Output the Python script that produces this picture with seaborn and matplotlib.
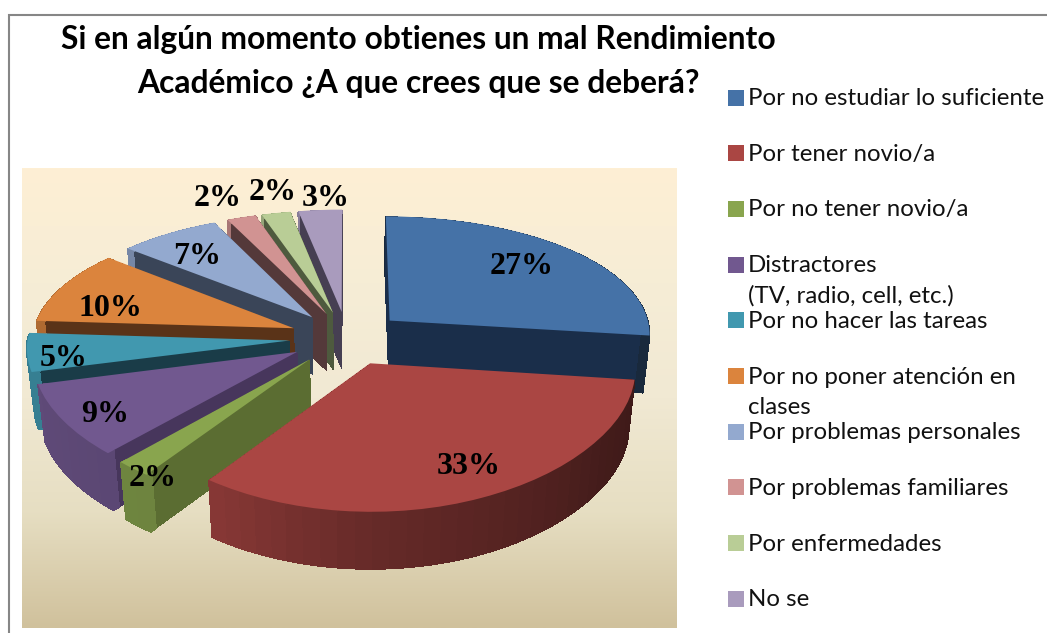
import numpy as np
import matplotlib
matplotlib.use("Agg")
import matplotlib.pyplot as plt
import seaborn as sns
from matplotlib.transforms import Transform, Affine2D

title_lines = ["Si en algún momento obtienes un mal Rendimiento",
               "Académico ¿A que crees que se deberá?"]
categories = [["Por no estudiar lo suficiente"], ["Por tener novio/a"], ["Por no tener novio/a"],
              ["Distractores", "(TV, radio, cell, etc.)"], ["Por no hacer las tareas"],
              ["Por no poner atención en", "clases"], ["Por problemas personales"],
              ["Por problemas familiares"], ["Por enfermedades"], ["No se"]]
values = [27, 33, 2, 9, 5, 10, 7, 2, 2, 3]
top_colors = ["#4572A7", "#AA4643", "#89A54E", "#71588F", "#4198AF",
              "#DB843D", "#93A9CF", "#D19392", "#B9CD96", "#A99BBD"]
cut_colors = ["#1A2E4A", "#4A1C1A", "#5B6D32", "#47365C", "#1A3C48",
              "#5A3318", "#3A4558", "#54393A", "#4E5A3E", "#463F52"]
label_xy = [(522, 263), (469, 464), (153, 476), (105, 411), (64, 355),
            (110, 305), (197, 253), (218, 196), (273, 190), (326, 195)]

W, H = 1047, 633
CX, CY, RX, RY, PK, EXPL, DEPTH = 347, 338, 262, 122, 0.13, 0.22, 57


class Persp(Transform):
    input_dims = output_dims = 2
    is_affine = False
    has_inverse = False

    def transform_non_affine(self, values):
        v = np.asarray(values, float)
        wy = 1 + PK * v[:, 1]
        wx = 1 + np.where(v[:, 1] > 0, 0.1, 0.05) * v[:, 1]
        return np.column_stack([v[:, 0] / wx, v[:, 1] / wy])


def wall_factor(theta):
    return np.interp(theta, [97, 120, 180, 216, 255, 273], [.36, .4, .6, .8, .84, .8])


sns.set_theme(style="white")
plt.rcParams["font.family"] = ["Lato", "DejaVu Sans"]
fig = plt.figure(figsize=(W / 100, H / 100), dpi=100, facecolor="white")
ax = fig.add_axes([0, 0, 1, 1])

cmap = sns.blend_palette(["#FEEFD4", "#F6EDD6", "#F1E9D3", "#E6DEC2", "#D0C19C"], as_cmap=True)
ax.imshow(np.linspace(0, 1, 256)[:, None], cmap=cmap, extent=(22, 677, 628, 168),
          aspect="auto", zorder=0)

fracs = np.array(values) / sum(values)
starts = np.concatenate([[0], np.cumsum(fracs)[:-1]]) * 360
persp = Persp()


def place(wedges, d):
    # lower layers shrink a little in x: the perspective of the extrusion
    sx = RX * (1 - 0.0004 * d)
    tr = persp + Affine2D().scale(sx, -RY).translate(CX, CY + d) + ax.transData
    for w in wedges:
        w.set_transform(tr)


# far slices are painted first, the two big front slices last
order = [9, 8, 7, 6, 5, 4, 3, 2, 0, 1]
z = 2
for i in order:
    f = fracs[i]
    mid = np.radians(starts[i] + f * 180)
    centre = (EXPL * np.sin(mid), EXPL * np.cos(mid))
    n = max(2, int(round(f * 100)))
    subs = [f / n] * n
    base = np.array(matplotlib.colors.to_rgb(top_colors[i]))
    thetas = starts[i] + f * 360 * (np.arange(n) + .5) / n
    cols = [tuple(base * wall_factor(t)) for t in thetas]
    for d in range(DEPTH, 0, -1):
        solid, _ = ax.pie([f], colors=[cut_colors[i]], startangle=90 - starts[i], counterclock=False,
                          center=centre, normalize=False, wedgeprops=dict(linewidth=0))
        rim, _ = ax.pie(subs, colors=cols, startangle=90 - starts[i], counterclock=False,
                        center=centre, normalize=False, wedgeprops=dict(linewidth=0.7, width=0.03))
        for w in rim:
            w.set_edgecolor(w.get_facecolor())
        wd = list(solid) + list(rim)
        place(wd, d)
        for w in wd:
            w.set_antialiased(False)
            w.set_zorder(z)
    wd, _ = ax.pie([f], colors=[top_colors[i]], startangle=90 - starts[i], counterclock=False,
                   center=centre, normalize=False, wedgeprops=dict(linewidth=0))
    place(wd, 0)
    wd[0].set_zorder(z + 1)
    z += 2

for v, (x, y) in zip(values, label_xy):
    ax.text(x, y + 3, f"{v}%", ha="center", va="center", fontsize=23, fontweight="bold",
            family="Liberation Serif", color="black", zorder=50)

ax.text(418, 39, title_lines[0], ha="center", va="center", fontsize=22.9, fontweight="bold", color="black", zorder=50)
ax.text(418, 83, title_lines[1], ha="center", va="center", fontsize=22.9, fontweight="bold", color="black", zorder=50)

for k, (lines, c) in enumerate(zip(categories, top_colors)):
    y = 97.5 + k * 55.7
    ax.scatter([735.5], [y], marker="s", s=117, color=c, linewidths=0, zorder=50)
    for j, line in enumerate(lines):
        ax.text(748, y + 1 + j * 30, line, ha="left", va="center", fontsize=17.3, color="#111111", zorder=50)

ax.plot([8.5, 8.5, W], [H, 14.5, 14.5], color="#868686", lw=1.5, solid_joinstyle="miter", zorder=60)

ax.set_aspect("auto")
ax.set_xlim(0, W)
ax.set_ylim(H, 0)
ax.set_axis_off()
fig.savefig("out.png", dpi=100)
